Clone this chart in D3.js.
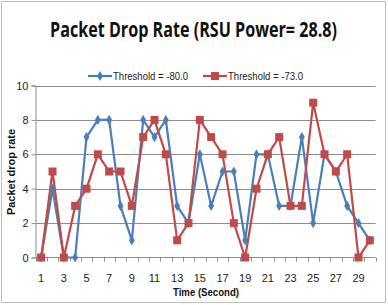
<!DOCTYPE html>
<html><head><meta charset="utf-8">
<script src="https://cdn.jsdelivr.net/npm/d3@7"></script>
<style>body{margin:0;background:#fff}svg{display:block}</style>
</head><body>
<svg id="c" width="388" height="305"></svg>
<script>
const categories = d3.range(1, 31);
const seriesNames = ["Threshold = -80.0", "Threshold = -73.0"];
const blueValues = [0,4,0,0,7,8,8,3,1,8,7,8,3,2,6,3,5,5,1,6,6,3,3,7,2,6,5,3,2,1];
const redValues  = [0,5,0,3,4,6,5,5,3,7,8,6,1,2,8,7,6,2,0,4,6,7,3,3,9,6,5,6,0,1];
const yTicks = [0,2,4,6,8,10];
const xTickLabels = categories.filter(c => c % 2 === 1);
const colors = ["#4a7ebb", "#be4b48"];

const svg = d3.select("#c");
const font = "'Liberation Sans', Arial, sans-serif";
svg.append("rect").attr("x",1.5).attr("y",1.5).attr("width",384).attr("height",301)
  .attr("fill","#fff").attr("stroke","#bfbfbf");

const L = 35.5, R = 375.5, T = 85.5, B = 257.5;
const x = d3.scaleBand().domain(categories).range([L, R]).paddingInner(0).paddingOuter(0);
const y = d3.scaleLinear().domain([0,10]).range([B, T]);
const cx = c => x(c) + x.bandwidth()/2;

// gridlines
svg.append("g").selectAll("line").data(yTicks.filter(t=>t>0)).join("line")
  .attr("x1", L).attr("x2", R).attr("y1", d=>Math.round(y(d))+0.5).attr("y2", d=>Math.round(y(d))+0.5)
  .attr("stroke","#8c8c8c").attr("stroke-width",1);

// y axis
const ya = svg.append("g").attr("transform",`translate(${L},0)`)
  .call(d3.axisLeft(y).tickValues(yTicks).tickSize(4).tickPadding(3).tickFormat(d3.format("d")));
ya.select(".domain").attr("stroke","#8c8c8c");
ya.selectAll(".tick line").attr("stroke","#8c8c8c");
ya.selectAll("text").attr("font-family",font).attr("font-size",11).attr("fill","#222");

// x axis
const xa = svg.append("g").attr("transform",`translate(0,${B})`);
xa.append("line").attr("x1",L).attr("x2",R).attr("y1",0).attr("y2",0).attr("stroke","#8c8c8c");
xa.selectAll("line.tk").data(d3.range(categories.length+1)).join("line").attr("class","tk")
  .attr("x1", i=>Math.round(L + i*x.step())+0.5).attr("x2", i=>Math.round(L + i*x.step())+0.5)
  .attr("y1",0).attr("y2",4).attr("stroke","#8c8c8c");
xa.selectAll("text").data(xTickLabels).join("text")
  .attr("x", d=>cx(d)).attr("y", 24).attr("text-anchor","middle")
  .attr("font-family",font).attr("font-size",11).attr("fill","#222").text(d=>d);

// lines
const line = d3.line().x((d,i)=>cx(categories[i])).y(d=>y(d));
[blueValues, redValues].forEach((vals, si) => {
  svg.append("path").datum(vals).attr("d", line).attr("fill","none")
    .attr("stroke", colors[si]).attr("stroke-width", 2.2);
});
// markers
svg.append("g").selectAll("path").data(blueValues).join("path")
  .attr("transform",(d,i)=>`translate(${cx(categories[i])},${y(d)})`)
  .attr("d", d3.symbol(d3.symbolDiamond, 30)).attr("fill", colors[0]);
svg.append("g").selectAll("rect").data(redValues).join("rect")
  .attr("x",(d,i)=>cx(categories[i])-4).attr("y",d=>y(d)-4).attr("width",8).attr("height",8)
  .attr("fill", colors[1]);

// title
const title = svg.append("text").attr("text-anchor","middle")
  .attr("font-family","'Open Sans', 'Liberation Sans', sans-serif").attr("font-weight","bold")
  .attr("font-size",21).attr("fill","#111")
  .text("Packet Drop Rate (RSU Power= 28.8)");
const tw = title.node().getComputedTextLength();
title.attr("transform",`translate(193.5,37) scale(${287/tw},1)`);

// legend
const leg = [{x:88, name:seriesNames[0], c:colors[0], m:"d"},{x:203, name:seriesNames[1], c:colors[1], m:"s"}];
leg.forEach(l => {
  svg.append("line").attr("x1",l.x).attr("x2",l.x+24).attr("y1",76).attr("y2",76).attr("stroke",l.c).attr("stroke-width",2.2);
  if (l.m==="d") svg.append("path").attr("transform",`translate(${l.x+12},76)`).attr("d",d3.symbol(d3.symbolDiamond,30)).attr("fill",l.c);
  else svg.append("rect").attr("x",l.x+8).attr("y",72).attr("width",8).attr("height",8).attr("fill",l.c);
  svg.append("text").attr("x",l.x+25).attr("y",80).attr("font-family",font).attr("font-size",11)
    .attr("fill","#222").attr("textLength",75).attr("lengthAdjust","spacingAndGlyphs").text(l.name);
});

// axis titles
svg.append("text").attr("transform","translate(15,172) rotate(-90)").attr("text-anchor","middle")
  .attr("font-family",font).attr("font-weight","bold").attr("font-size",11).attr("fill","#111")
  .text("Packet drop rate");
svg.append("text").attr("x",206).attr("y",296).attr("text-anchor","middle")
  .attr("font-family",font).attr("font-weight","bold").attr("font-size",11).attr("fill","#111")
  .attr("textLength",66).attr("lengthAdjust","spacingAndGlyphs")
  .text("Time (Second)");
</script>
</body></html>
